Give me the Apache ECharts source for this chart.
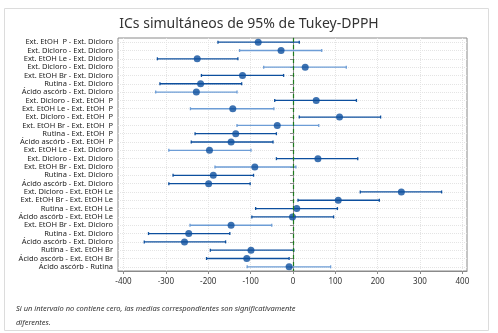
<!DOCTYPE html>
<html lang="es">
<head>
<meta charset="UTF-8">
<title>ICs simultáneos de 95% de Tukey-DPPH</title>
<script src="https://cdn.jsdelivr.net/npm/echarts@6/dist/echarts.min.js"></script>
<style>
    * { margin: 0; padding: 0; }
    html, body { width: 100%; height: 100%; background: #fff; }
    #chart { width: 498px; height: 333px; }
</style>
</head>
<body>
<div id="chart"></div>
<script>
    // comparaciones (de arriba hacia abajo)
    var labels = [
        'Ext. EtOH  P - Ext. Dicloro',
        'Ext. Dicloro - Ext. Dicloro',
        'Ext. EtOH Le - Ext. Dicloro',
        'Ext. Dicloro - Ext. Dicloro',
        'Ext. EtOH Br - Ext. Dicloro',
        'Rutina - Ext. Dicloro',
        'Ácido ascórb - Ext. Dicloro',
        'Ext. Dicloro - Ext. EtOH  P',
        'Ext. EtOH Le - Ext. EtOH  P',
        'Ext. Dicloro - Ext. EtOH  P',
        'Ext. EtOH Br - Ext. EtOH  P',
        'Rutina - Ext. EtOH  P',
        'Ácido ascórb - Ext. EtOH  P',
        'Ext. EtOH Le - Ext. Dicloro',
        'Ext. Dicloro - Ext. Dicloro',
        'Ext. EtOH Br - Ext. Dicloro',
        'Rutina - Ext. Dicloro',
        'Ácido ascórb - Ext. Dicloro',
        'Ext. Dicloro - Ext. EtOH Le',
        'Ext. EtOH Br - Ext. EtOH Le',
        'Rutina - Ext. EtOH Le',
        'Ácido ascórb - Ext. EtOH Le',
        'Ext. EtOH Br - Ext. Dicloro',
        'Rutina - Ext. Dicloro',
        'Ácido ascórb - Ext. Dicloro',
        'Rutina - Ext. EtOH Br',
        'Ácido ascórb - Ext. EtOH Br',
        'Ácido ascórb - Rutina'
    ];
    var diff  = [-82, -28, -226, 29, -119, -218, -228, 55, -142, 110, -37, -135, -146, -197,
                 59, -90, -188, -199, 256, 107, 9, -1, -146, -246, -256, -99, -109, -9];
    var lower = [-177, -126, -320, -69, -216, -314, -324, -43, -242, 15, -132, -231, -240, -293,
                 -39, -184, -283, -293, 159, 12, -88, -97, -243, -341, -351, -195, -204, -108];
    var upper = [15, 68, -130, 126, -22, -121, -132, 150, -45, 207, 61, -39, -47, -99,
                 153, 7, -93, -101, 351, 204, 105, 96, -50, -149, -159, 2, -9, 89];
    var xTicks = [-400, -300, -200, -100, 0, 100, 200, 300, 400];

    // filas dibujadas con el azul claro
    var lightRows = [1, 3, 6, 8, 10, 13, 15, 22, 27];

    var darkBlue = '#0d4f9e';
    var lightBlue = '#6d9dd6';
    var font = 'Noto Sans';

    var ciData = [];
    for (var i = 0; i < labels.length; i++) {
        ciData.push([i, lower[i], upper[i]]);
    }
    var ptData = [];
    for (var j = 0; j < labels.length; j++) {
        ptData.push([diff[j], j]);
    }

    function renderCI(params, api) {
        var row = api.value(0);
        var a = api.coord([api.value(1), row]);
        var b = api.coord([api.value(2), row]);
        var color = lightRows.indexOf(row) >= 0 ? lightBlue : darkBlue;
        var style = { stroke: color, lineWidth: 1.3 };
        return {
            type: 'group',
            children: [
                { type: 'line', shape: { x1: a[0], y1: a[1], x2: b[0], y2: b[1] }, style: style },
                { type: 'line', shape: { x1: a[0], y1: a[1] - 1.5, x2: a[0], y2: a[1] + 1.5 }, style: style },
                { type: 'line', shape: { x1: b[0], y1: b[1] - 1.5, x2: b[0], y2: b[1] + 1.5 }, style: style }
            ]
        };
    }

    var option = {
        animation: false,
        textStyle: { fontFamily: font },
        title: {
            text: 'ICs simultáneos de 95% de Tukey-DPPH',
            left: 'center',
            top: 12,
            textStyle: { fontFamily: font, fontSize: 14, fontWeight: 'normal', color: '#333' }
        },
        graphic: [
            {
                type: 'rect',
                shape: { x: 4.5, y: 8.5, width: 484, height: 322 },
                style: { fill: 'none', stroke: '#dcdcdc', lineWidth: 1 },
                z: -10
            },
            {
                type: 'text',
                left: 16,
                top: 302,
                style: {
                    text: 'Si un intervalo no contiene cero, las medias correspondientes son significativamente\ndiferentes.',
                    font: 'italic 7.5px "Noto Sans"',
                    fill: '#333',
                    lineHeight: 14
                }
            }
        ],
        grid: {
            left: 118,
            right: 31,
            top: 38,
            bottom: 62,
            show: true,
            borderColor: '#8a8a8a',
            borderWidth: 1
        },
        xAxis: {
            type: 'value',
            min: -413,
            max: 411,
            axisLine: { show: true, lineStyle: { color: '#8a8a8a' } },
            axisTick: { show: true, length: 3, customValues: xTicks, lineStyle: { color: '#8a8a8a' } },
            axisLabel: { customValues: xTicks, fontSize: 8, color: '#333', margin: 7, fontFamily: font },
            splitLine: { show: true, lineStyle: { color: '#e4e4e4', type: 'dotted' } }
        },
        yAxis: {
            type: 'category',
            inverse: true,
            data: labels,
            axisLine: { show: true, lineStyle: { color: '#8a8a8a' } },
            axisTick: { show: true, alignWithLabel: true, length: 3, lineStyle: { color: '#8a8a8a' } },
            axisLabel: { fontSize: 7.5, color: '#222', margin: 5, interval: 0, fontFamily: font },
            splitLine: { show: true, alignWithLabel: true, lineStyle: { color: '#e4e4e4', type: 'dotted' } }
        },
        series: [
            {
                type: 'custom',
                renderItem: renderCI,
                encode: { x: [1, 2], y: 0 },
                data: ciData,
                z: 2
            },
            {
                type: 'scatter',
                symbol: 'circle',
                symbolSize: 7,
                itemStyle: { color: darkBlue },
                data: ptData,
                z: 3,
                markLine: {
                    silent: true,
                    symbol: 'none',
                    label: { show: false },
                    lineStyle: { color: '#1d7a1d', type: [4, 3], width: 1.2 },
                    data: [{ xAxis: 0 }]
                }
            }
        ]
    };

    var myChart = echarts.init(document.getElementById('chart'));
    myChart.setOption(option);
</script>
</body>
</html>
